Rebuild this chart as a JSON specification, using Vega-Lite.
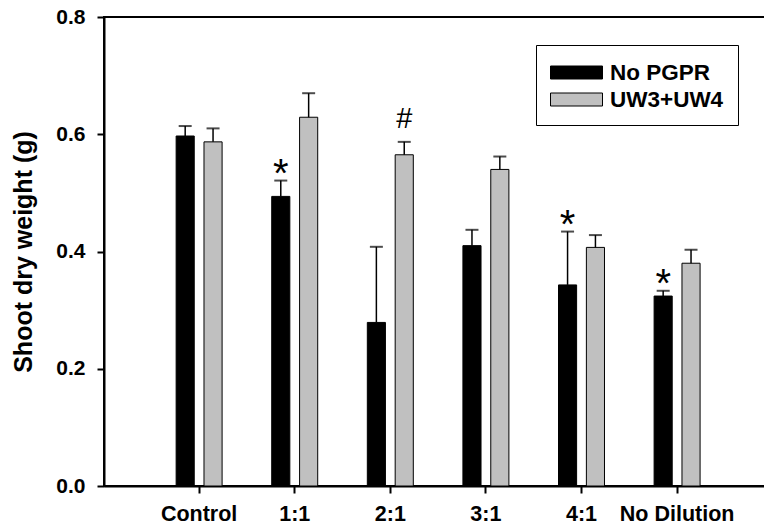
{
  "$schema": "https://vega.github.io/schema/vega-lite/v6.json",
  "width": 662,
  "height": 469,
  "autosize": {"type": "none"},
  "padding": {"left": 104, "top": 17, "right": 0, "bottom": 45},
  "background": "white",
  "data": {
    "values": [
      {"group": "Control", "treatment": "No PGPR", "value": 0.597, "err": 0.614, "sig": ""},
      {"group": "Control", "treatment": "UW3+UW4", "value": 0.587, "err": 0.610, "sig": ""},
      {"group": "1:1", "treatment": "No PGPR", "value": 0.494, "err": 0.521, "sig": "*"},
      {"group": "1:1", "treatment": "UW3+UW4", "value": 0.629, "err": 0.670, "sig": ""},
      {"group": "2:1", "treatment": "No PGPR", "value": 0.279, "err": 0.408, "sig": ""},
      {"group": "2:1", "treatment": "UW3+UW4", "value": 0.565, "err": 0.587, "sig": "#"},
      {"group": "3:1", "treatment": "No PGPR", "value": 0.410, "err": 0.437, "sig": ""},
      {"group": "3:1", "treatment": "UW3+UW4", "value": 0.540, "err": 0.562, "sig": ""},
      {"group": "4:1", "treatment": "No PGPR", "value": 0.343, "err": 0.434, "sig": "*"},
      {"group": "4:1", "treatment": "UW3+UW4", "value": 0.407, "err": 0.428, "sig": ""},
      {"group": "No Dilution", "treatment": "No PGPR", "value": 0.324, "err": 0.333, "sig": "*"},
      {"group": "No Dilution", "treatment": "UW3+UW4", "value": 0.380, "err": 0.403, "sig": ""}
    ]
  },
  "encoding": {
    "x": {
      "field": "group",
      "type": "nominal",
      "sort": ["Control", "1:1", "2:1", "3:1", "4:1", "No Dilution"],
      "scale": {"paddingInner": 0.519, "paddingOuter": 0.722, "align": 0.5225},
      "title": null
    },
    "xOffset": {
      "field": "treatment",
      "type": "nominal",
      "sort": ["No PGPR", "UW3+UW4"],
      "scale": {"paddingInner": 0.35, "paddingOuter": 0}
    }
  },
  "layer": [
    {
      "mark": {"type": "bar", "stroke": "black", "strokeWidth": 1},
      "encoding": {
        "y": {
          "field": "value",
          "type": "quantitative",
          "scale": {"domain": [0, 0.8], "nice": false},
          "title": "Shoot dry weight (g)",
          "axis": {"values": [0, 0.2, 0.4, 0.6, 0.8], "format": ".1f"}
        },
        "color": {
          "field": "treatment",
          "type": "nominal",
          "scale": {"domain": ["No PGPR", "UW3+UW4"], "range": ["#000000", "#c0c0c0"]},
          "legend": {"title": null}
        }
      }
    },
    {
      "mark": {"type": "rule", "color": "black", "strokeWidth": 1.5},
      "encoding": {
        "y": {"field": "value", "type": "quantitative", "title": "Shoot dry weight (g)", "axis": {"values": [0, 0.2, 0.4, 0.6, 0.8], "format": ".1f"}},
        "y2": {"field": "err"}
      }
    },
    {
      "mark": {"type": "tick", "color": "black", "size": 13, "thickness": 2, "orient": "horizontal"},
      "encoding": {
        "y": {"field": "err", "type": "quantitative", "title": "Shoot dry weight (g)", "axis": {"values": [0, 0.2, 0.4, 0.6, 0.8], "format": ".1f"}}
      }
    },
    {
      "transform": [{"filter": "datum.sig == '*'"}],
      "mark": {"type": "text", "font": "Liberation Sans", "fontSize": 40, "baseline": "alphabetic", "dy": 6, "color": "black"},
      "encoding": {
        "y": {"field": "err", "type": "quantitative", "title": "Shoot dry weight (g)", "axis": {"values": [0, 0.2, 0.4, 0.6, 0.8], "format": ".1f"}},
        "text": {"field": "sig"}
      }
    },
    {
      "transform": [{"filter": "datum.sig == '#'"}],
      "mark": {"type": "text", "font": "Liberation Sans", "fontSize": 29, "baseline": "alphabetic", "dy": -14, "color": "black"},
      "encoding": {
        "y": {"field": "err", "type": "quantitative", "title": "Shoot dry weight (g)", "axis": {"values": [0, 0.2, 0.4, 0.6, 0.8], "format": ".1f"}},
        "text": {"field": "sig"}
      }
    }
  ],
  "config": {
    "view": {"stroke": "black", "strokeWidth": 2},
    "font": "Liberation Sans",
    "axis": {
      "grid": false,
      "domainColor": "black",
      "domainWidth": 2,
      "tickColor": "black",
      "tickWidth": 2,
      "tickSize": 7,
      "labelColor": "black",
      "labelFont": "Liberation Sans",
      "labelFontWeight": "bold",
      "titleColor": "black",
      "titleFont": "Liberation Sans",
      "titleFontWeight": "bold"
    },
    "axisY": {
      "labelFontSize": 21,
      "labelPadding": 12,
      "titleFontSize": 25,
      "titleX": -81,
      "titleY": 234.5,
      "titleAngle": -90,
      "titleAlign": "center",
      "titleBaseline": "middle"
    },
    "axisX": {
      "labelAngle": 0,
      "labelFontSize": 21.5,
      "labelPadding": 10
    },
    "legend": {
      "orient": "none",
      "legendX": 432,
      "legendY": 28,
      "strokeColor": "black",
      "padding": 14,
      "symbolType": "M-1,-0.5H3V0.5H-1Z",
      "symbolSize": 676,
      "symbolStrokeColor": "black",
      "symbolStrokeWidth": 1,
      "labelFont": "Liberation Sans",
      "labelFontSize": 22.5,
      "labelFontWeight": "bold",
      "labelColor": "black",
      "labelOffset": 33,
      "rowPadding": 2
    }
  }
}
